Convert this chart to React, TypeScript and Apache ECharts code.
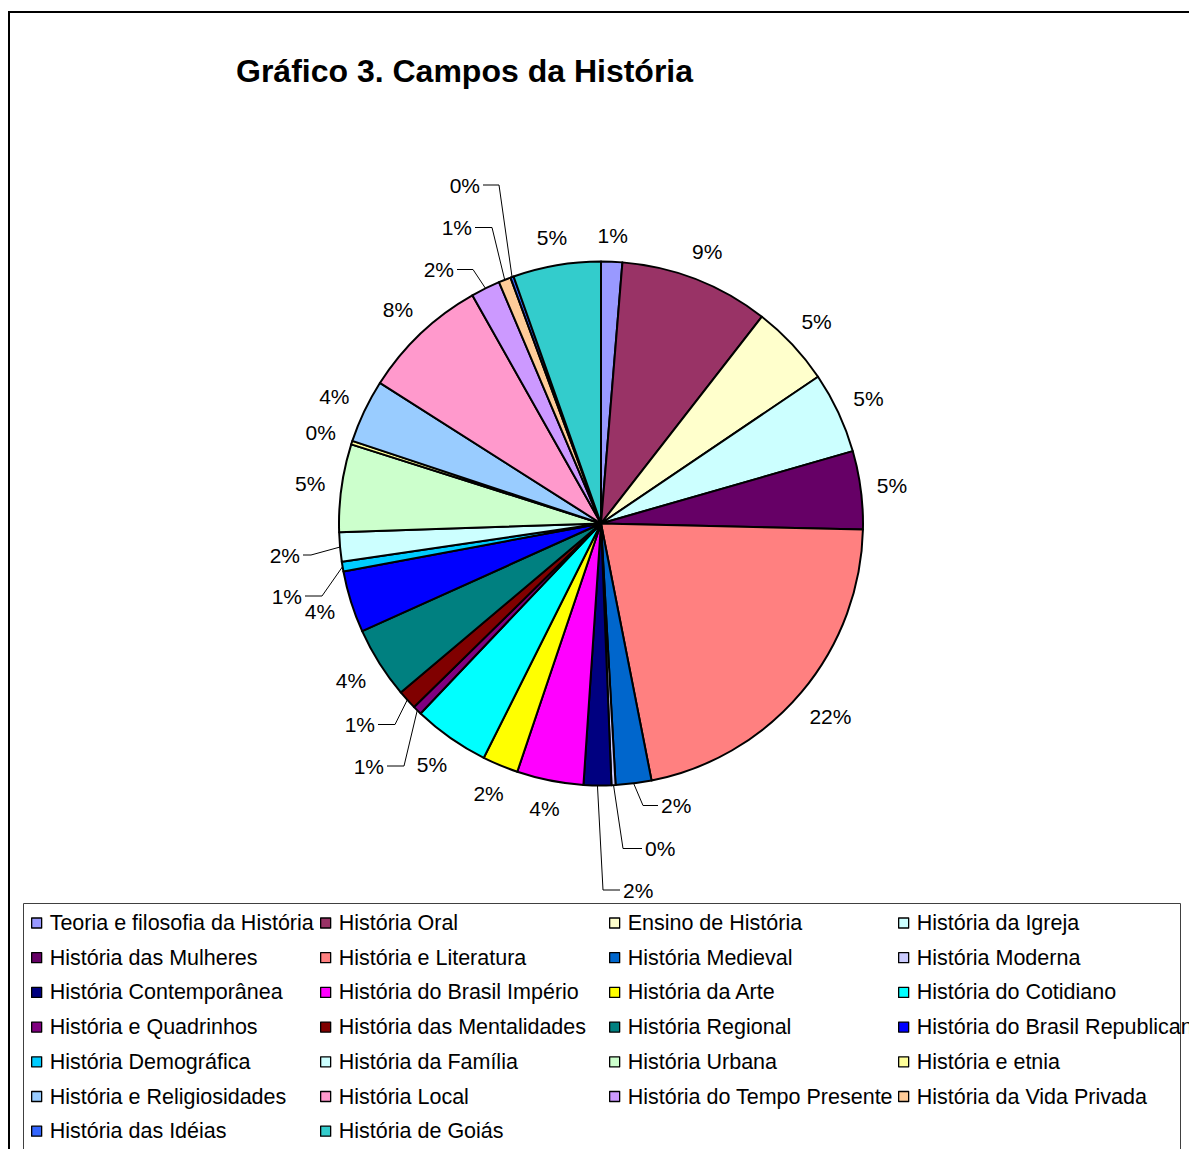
import React, { useEffect, useRef } from 'react';
import * as echarts from 'echarts';

const TITLE = 'Gráfico 3. Campos da História';

const CATEGORIES = [
  'Teoria e filosofia da História',
  'História Oral',
  'Ensino de História',
  'História da Igreja',
  'História das Mulheres',
  'História e Literatura',
  'História Medieval',
  'História Moderna',
  'História Contemporânea',
  'História do Brasil Império',
  'História da Arte',
  'História do Cotidiano',
  'História e Quadrinhos',
  'História das Mentalidades',
  'História Regional',
  'História do Brasil Republicano',
  'História Demográfica',
  'História da Família',
  'História Urbana',
  'História e etnia',
  'História e Religiosidades',
  'História Local',
  'História do Tempo Presente',
  'História da Vida Privada',
  'História das Idéias',
  'História de Goiás',
];

// share of each field (percent)
const VALUES = [
  1.3, 9.2, 5.0, 5.0, 4.8, 21.5, 2.2, 0.25, 1.7, 4.1, 2.2, 4.7, 0.55,
  1.2, 4.4, 3.8, 0.6, 1.8, 5.4, 0.22, 3.9, 7.8, 1.8, 0.75, 0.2, 5.4,
];

const COLORS = [
  '#9999FF', '#993366', '#FFFFCC', '#CCFFFF', '#660066', '#FF8080', '#0066CC',
  '#CCCCFF', '#000080', '#FF00FF', '#FFFF00', '#00FFFF', '#800080', '#800000',
  '#008080', '#0000FF', '#00CCFF', '#CCFFFF', '#CCFFCC', '#FFFF99', '#99CCFF',
  '#FF99CC', '#CC99FF', '#FFCC99', '#3366FF', '#33CCCC',
];

// ---- layout (not data) ----
const W = 1189;
const H = 1149;
const FONT = '"Liberation Sans", Arial, sans-serif';
const CX = 601;
const CY = 523.5;
const R = 262;
const LABEL_GAP = 15;
// moved labels with leader lines: elbow and end, relative to pie center
const LEADERS: Record<number, { elbow: [number, number]; end: [number, number] }> = {
  6: { elbow: [42, 282], end: [57, 282] },
  7: { elbow: [22, 325], end: [41, 325] },
  8: { elbow: [2, 366.5], end: [19, 366.5] },
  12: { elbow: [-197, 242.5], end: [-214, 242.5] },
  13: { elbow: [-206, 201], end: [-223, 201] },
  16: { elbow: [-279, 72.5], end: [-296, 72.5] },
  17: { elbow: [-290, 31.5], end: [-298, 31.5] },
  22: { elbow: [-128, -254], end: [-144, -254] },
  23: { elbow: [-109, -296], end: [-126, -296] },
  24: { elbow: [-102, -338.5], end: [-118, -338.5] },
};
const LEGEND_X = [31, 320, 609, 898];
const LEGEND_TOP = 912;
const ROW_STEP = 34.7;
const LEGEND_LINE = 22;

export default function App() {
  const ref = useRef<HTMLDivElement>(null);

  useEffect(() => {
    const chart = echarts.init(ref.current!, null, { renderer: 'svg' });
    const TOTAL = VALUES.reduce((a, b) => a + b, 0);
    const starts: number[] = [];
    let acc = 0;
    VALUES.forEach((v) => {
      starts.push(acc);
      acc += v;
    });
    const mid = (i: number) => ((starts[i] + VALUES[i] / 2) / TOTAL) * Math.PI * 2;

    const legends = [0, 1, 2, 3].map((c) => ({
      orient: 'vertical',
      left: LEGEND_X[c],
      top: LEGEND_TOP,
      padding: 0,
      itemGap: ROW_STEP - LEGEND_LINE,
      itemWidth: 10,
      itemHeight: 10,
      icon: 'rect',
      selectedMode: false,
      data: CATEGORIES.filter((_, i) => i % 4 === c),
      itemStyle: { borderColor: '#000', borderWidth: 1.3 },
      textStyle: {
        fontFamily: FONT,
        fontSize: 21.5,
        color: '#000',
        lineHeight: LEGEND_LINE,
        padding: [0, 0, 0, 3],
      },
    }));

    chart.setOption({
      animation: false,
      backgroundColor: '#fff',
      title: {
        text: TITLE,
        left: 236,
        top: 55,
        padding: 0,
        textStyle: {
          fontFamily: FONT,
          fontSize: 32,
          fontWeight: 'bold',
          color: '#000',
          lineHeight: 32,
        },
      },
      legend: legends,
      graphic: [
        {
          type: 'rect',
          silent: true,
          shape: { x: 9, y: 12, width: 1400, height: 1400 },
          style: { fill: 'none', stroke: '#000', lineWidth: 2 },
        },
        {
          type: 'rect',
          silent: true,
          shape: { x: 23.5, y: 903.5, width: 1157, height: 400 },
          style: { fill: 'none', stroke: '#404040', lineWidth: 1 },
        },
      ],
      series: [
        {
          type: 'pie',
          center: [CX, CY],
          radius: R,
          startAngle: 90,
          clockwise: true,
          avoidLabelOverlap: false,
          emphasis: { disabled: true },
          itemStyle: { borderColor: '#000', borderWidth: 2 },
          data: CATEGORIES.map((name, i) => ({
            name,
            value: VALUES[i],
            itemStyle: { color: COLORS[i] },
            labelLine: { show: LEADERS[i] !== undefined },
          })),
          label: {
            show: true,
            position: 'outside',
            fontFamily: FONT,
            fontSize: 21,
            color: '#000',
            formatter: (p: any) => Math.round((p.value / TOTAL) * 100) + '%',
          },
          labelLine: {
            show: false,
            lineStyle: { color: '#000', width: 1 },
          },
          labelLayout: (p: any) => {
            const i = p.dataIndex;
            const a = mid(i);
            const s = Math.sin(a);
            const c = Math.cos(a);
            const L = LEADERS[i];
            if (L) {
              const start = [CX + R * s, CY - R * c];
              const elbow = [CX + L.elbow[0], CY + L.elbow[1]];
              const end = [CX + L.end[0], CY + L.end[1]];
              const right = L.end[0] > L.elbow[0];
              return {
                x: end[0] + (right ? 3 : -3),
                y: end[1],
                align: right ? 'left' : 'right',
                verticalAlign: 'middle',
                labelLinePoints: [start, elbow, end],
              };
            }
            const w = p.labelRect.width;
            const h = p.labelRect.height;
            const d = R + LABEL_GAP + (Math.abs(s) * w) / 2 + (Math.abs(c) * h) / 2;
            return {
              x: CX + d * s,
              y: CY - d * c,
              align: 'center',
              verticalAlign: 'middle',
            };
          },
        },
      ],
    });
    return () => chart.dispose();
  }, []);

  return (
    <div
      ref={ref}
      style={{ position: 'absolute', left: 0, top: 0, width: W, height: H }}
    />
  );
}
